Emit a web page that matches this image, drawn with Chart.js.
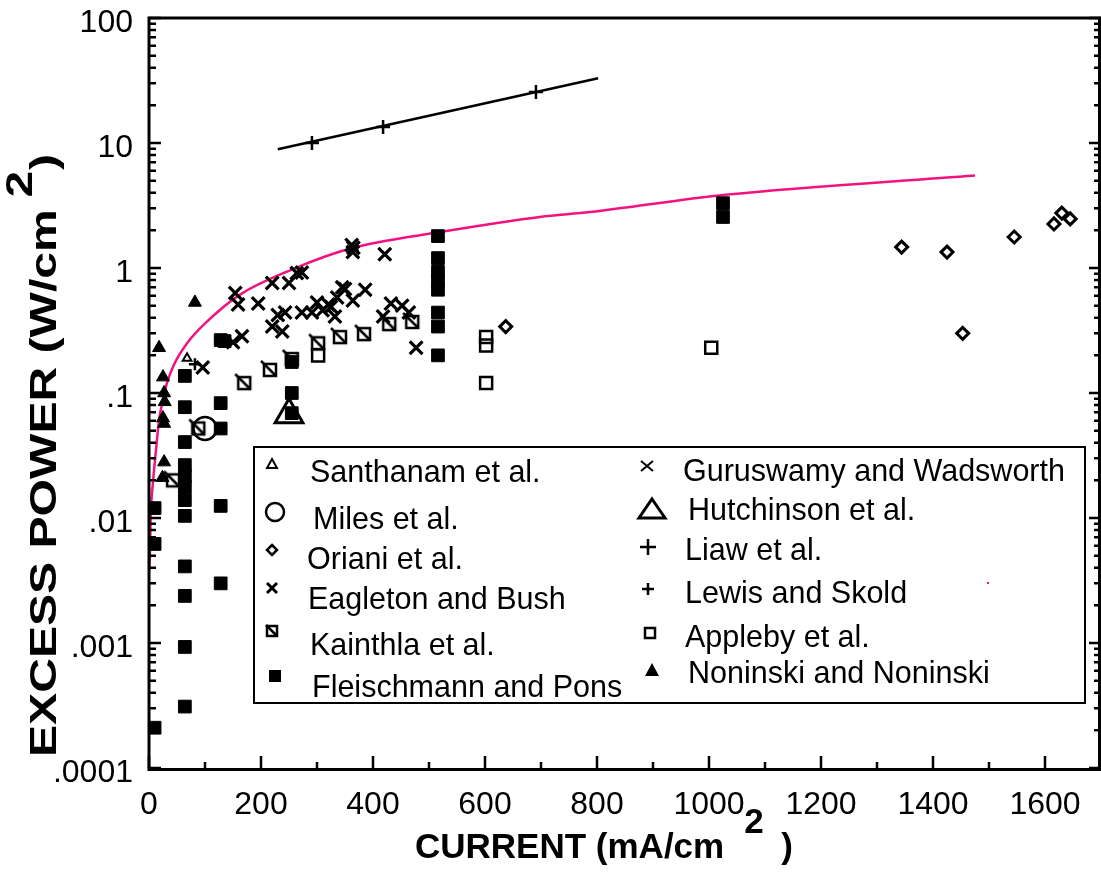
<!DOCTYPE html>
<html>
<head>
<meta charset="utf-8">
<script src="https://cdn.jsdelivr.net/npm/chart.js@4.4.1/dist/chart.umd.min.js"></script>
<style>
html,body{margin:0;padding:0;background:#fff;}
#wrap{width:1101px;height:874px;}
</style>
</head>
<body>
<div id="wrap"><canvas id="grafica" width="1101" height="874"></canvas></div>
<script>
// etiquetas de los ejes
const xTickValues = [0, 200, 400, 600, 800, 1000, 1200, 1400, 1600];
const xTickLabels = ['0', '200', '400', '600', '800', '1000', '1200', '1400', '1600'];
const yTickValues = [0.0001, 0.001, 0.01, 0.1, 1, 10, 100];
const yTickLabels = ['.0001', '.001', '.01', '.1', '1', '10', '100'];

// curva magenta
const curvaX = [0.5, 1.8, 3, 7, 12.5, 18, 25, 32, 45, 68, 100, 162, 250, 364, 520, 698, 787, 1029, 1475];
const curvaY = [0.0038, 0.0055, 0.0102, 0.019, 0.035, 0.061, 0.088, 0.12, 0.17, 0.25, 0.36, 0.61, 0.95, 1.45, 1.94, 2.56, 2.8, 3.85, 5.5];

// series
const santhanamX = [68];
const santhanamY = [0.19];
const milesX = [100];
const milesY = [0.052];
const orianiX = [637, 1344, 1425, 1453, 1545, 1616, 1630, 1645];
const orianiY = [0.34, 1.47, 1.34, 0.30, 1.77, 2.25, 2.75, 2.47];
const eagletonX = [154, 159, 195, 220, 250, 264, 273, 362, 365, 364, 421, 220, 238, 230, 243, 273, 291, 300, 320, 332, 336, 345, 350, 364, 386, 325, 310];
const eagletonY = [0.63, 0.51, 0.52, 0.76, 0.76, 0.91, 0.92, 1.53, 1.45, 1.34, 1.29, 0.34, 0.31, 0.42, 0.44, 0.44, 0.44, 0.53, 0.51, 0.41, 0.58, 0.70, 0.68, 0.55, 0.67, 0.49, 0.46];
const kainthlaX = [43, 88, 170, 216, 255, 302, 341, 384, 429, 470];
const kainthlaY = [0.02, 0.052, 0.12, 0.153, 0.187, 0.25, 0.28, 0.296, 0.356, 0.37];
const fleischmannX = [10, 10, 10, 64, 64, 64, 64, 64, 64, 64, 64, 64, 64, 64, 64, 128, 135, 128, 128, 128, 128, 255, 255, 255, 516, 516, 516, 516, 516, 516, 516, 516, 1025, 1025];
const fleischmannY = [0.012, 0.0062, 0.00021, 0.137, 0.077, 0.0405, 0.0265, 0.0216, 0.0177, 0.0139, 0.0104, 0.0041, 0.00238, 0.00093, 0.00031, 0.265, 0.26, 0.083, 0.052, 0.0125, 0.003, 0.177, 0.1, 0.069, 1.8, 1.2, 0.93, 0.79, 0.67, 0.44, 0.34, 0.2, 3.3, 2.56];
const guruswamyX = [96, 150, 166, 418, 432, 452, 464, 477];
const guruswamyY = [0.16, 0.255, 0.285, 0.41, 0.52, 0.5, 0.44, 0.23];
const hutchinsonX = [250];
const hutchinsonY = [0.067];
const liawX = [291, 418, 691];
const liawY = [10, 13.4, 25.6];
const liawAjusteX = [230, 802];
const liawAjusteY = [8.9, 33];
const lewisX = [82];
const lewisY = [0.17];
const applebyX = [302, 602, 602, 602, 1004];
const applebyY = [0.2, 0.28, 0.24, 0.12, 0.23];
const noninskiX = [82, 18, 25, 27, 28, 25, 27, 27, 24];
const noninskiY = [0.53, 0.23, 0.134, 0.1, 0.085, 0.063, 0.057, 0.028, 0.021];

const fuente = '"Liberation Sans", Arial, Helvetica, sans-serif';
const rosa = '#f2137f';

function pares(xs, ys) {
    return xs.map((v, i) => ({x: v, y: ys[i]}));
}

function hacerMarcaKainthla(lado, grosor) {
    const c = document.createElement('canvas');
    const s = lado + 10;
    c.width = s; c.height = s;
    const g = c.getContext('2d');
    g.strokeStyle = '#000';
    g.lineWidth = grosor;
    const o = 5;
    g.strokeRect(o, o, lado, lado);
    g.beginPath();
    g.moveTo(o - 3, o - 3);
    g.lineTo(o + lado, o + lado);
    g.stroke();
    return c;
}

function puntos(label, xs, ys, estilo) {
    return Object.assign({
        label: label,
        data: pares(xs, ys),
        showLine: false,
        pointBackgroundColor: 'rgba(0,0,0,0)',
        pointBorderColor: '#000',
        pointBorderWidth: 2.5
    }, estilo);
}

// leyenda dibujada a mano
function marcaLeyenda(ctx, tipo, x, y) {
    ctx.save();
    ctx.strokeStyle = '#000';
    ctx.fillStyle = '#000';
    ctx.beginPath();
    if (tipo === 'triPeq') {
        ctx.lineWidth = 2;
        ctx.moveTo(x, y - 5); ctx.lineTo(x + 5, y + 4); ctx.lineTo(x - 5, y + 4); ctx.closePath(); ctx.stroke();
    } else if (tipo === 'circulo') {
        ctx.lineWidth = 2.5;
        ctx.arc(x, y, 9, 0, Math.PI * 2); ctx.stroke();
    } else if (tipo === 'rombo') {
        ctx.lineWidth = 2.5;
        ctx.moveTo(x, y - 5); ctx.lineTo(x + 5, y); ctx.lineTo(x, y + 5); ctx.lineTo(x - 5, y); ctx.closePath(); ctx.stroke();
    } else if (tipo === 'xGruesa') {
        ctx.lineWidth = 3;
        ctx.moveTo(x - 5, y - 5); ctx.lineTo(x + 5, y + 5); ctx.moveTo(x + 5, y - 5); ctx.lineTo(x - 5, y + 5); ctx.stroke();
    } else if (tipo === 'kainthla') {
        ctx.lineWidth = 2.5;
        ctx.strokeRect(x - 5, y - 5, 10, 10);
        ctx.moveTo(x - 6, y - 6); ctx.lineTo(x + 5, y + 5); ctx.stroke();
    } else if (tipo === 'cuadLleno') {
        ctx.fillRect(x - 6, y - 6, 12, 12);
    } else if (tipo === 'xFina') {
        ctx.lineWidth = 2;
        ctx.moveTo(x - 6, y - 5); ctx.lineTo(x + 6, y + 5); ctx.moveTo(x + 6, y - 5); ctx.lineTo(x - 6, y + 5); ctx.stroke();
    } else if (tipo === 'triGrande') {
        ctx.lineWidth = 3;
        ctx.moveTo(x, y - 10); ctx.lineTo(x + 13, y + 9); ctx.lineTo(x - 13, y + 9); ctx.closePath(); ctx.stroke();
    } else if (tipo === 'mas') {
        ctx.lineWidth = 2.5;
        ctx.moveTo(x - 8, y); ctx.lineTo(x + 8, y); ctx.moveTo(x, y - 8); ctx.lineTo(x, y + 8); ctx.stroke();
    } else if (tipo === 'masPeq') {
        ctx.lineWidth = 2.5;
        ctx.moveTo(x - 6, y); ctx.lineTo(x + 6, y); ctx.moveTo(x, y - 6); ctx.lineTo(x, y + 6); ctx.stroke();
    } else if (tipo === 'cuadVacio') {
        ctx.lineWidth = 2.5;
        ctx.strokeRect(x - 5, y - 5, 10, 10);
    } else if (tipo === 'triLleno') {
        ctx.moveTo(x, y - 7); ctx.lineTo(x + 7, y + 6); ctx.lineTo(x - 7, y + 6); ctx.closePath(); ctx.fill();
    }
    ctx.restore();
}

const entradasLeyenda = [
    {texto: 'Santhanam et al.', tipo: 'triPeq', mx: 272, my: 464, tx: 310, ty: 482},
    {texto: 'Miles et al.', tipo: 'circulo', mx: 275, my: 512, tx: 313, ty: 529},
    {texto: 'Oriani et al.', tipo: 'rombo', mx: 272, my: 550, tx: 307, ty: 569},
    {texto: 'Eagleton and Bush', tipo: 'xGruesa', mx: 272, my: 588, tx: 308, ty: 609},
    {texto: 'Kainthla et al.', tipo: 'kainthla', mx: 272, my: 631, tx: 310, ty: 655},
    {texto: 'Fleischmann and Pons', tipo: 'cuadLleno', mx: 275, my: 676, tx: 312, ty: 697},
    {texto: 'Guruswamy and Wadsworth', tipo: 'xFina', mx: 647, my: 466, tx: 683, ty: 481},
    {texto: 'Hutchinson et al.', tipo: 'triGrande', mx: 652, my: 509, tx: 688, ty: 520},
    {texto: 'Liaw et al.', tipo: 'mas', mx: 648, my: 547, tx: 685, ty: 560},
    {texto: 'Lewis and Skold', tipo: 'masPeq', mx: 648, my: 589, tx: 685, ty: 603},
    {texto: 'Appleby et al.', tipo: 'cuadVacio', mx: 650, my: 633, tx: 685, ty: 647},
    {texto: 'Noninski and Noninski', tipo: 'triLleno', mx: 652, my: 670, tx: 688, ty: 683}
];

const leyendaPlugin = {
    id: 'leyendaPropia',
    afterDraw(chart) {
        const ctx = chart.ctx;
        ctx.save();
        ctx.strokeStyle = '#000';
        ctx.lineWidth = 2;
        ctx.strokeRect(254, 447, 831, 256);
        ctx.font = '30.5px ' + fuente;
        ctx.textBaseline = 'alphabetic';
        entradasLeyenda.forEach(e => {
            marcaLeyenda(ctx, e.tipo, e.mx, e.my);
            ctx.fillStyle = '#000';
            ctx.fillText(e.texto, e.tx, e.ty);
        });
        // punto rosa suelto
        ctx.fillStyle = rosa;
        ctx.fillRect(987, 582, 2, 2);
        ctx.restore();
    }
};

const marcoPlugin = {
    id: 'marco',
    afterDraw(chart) {
        const {ctx, chartArea: a, scales: {x, y}} = chart;
        ctx.save();
        ctx.strokeStyle = '#000';
        ctx.lineWidth = 3;
        ctx.beginPath();
        ctx.moveTo(a.left, a.top - 1.5); ctx.lineTo(a.left, a.bottom + 1.5);
        ctx.lineTo(a.right, a.bottom + 1.5);
        ctx.moveTo(a.left, a.top); ctx.lineTo(a.right, a.top);
        ctx.moveTo(a.right - 1.5, a.top); ctx.lineTo(a.right - 1.5, a.bottom);
        ctx.stroke();
        ctx.lineWidth = 2.5;
        ctx.beginPath();
        for (let v = 0; v <= 1700; v += 100) {
            const px = x.getPixelForValue(v);
            const largo = v % 200 === 0 ? 12 : 6;
            ctx.moveTo(px, a.bottom); ctx.lineTo(px, a.bottom - largo);
        }
        for (let d = -4; d <= 2; d++) {
            for (let k = 1; k <= 9; k++) {
                const v = k * Math.pow(10, d);
                if (v > 100.001) break;
                const py = y.getPixelForValue(v);
                const largo = k === 1 ? 12 : 7;
                ctx.moveTo(a.left, py); ctx.lineTo(a.left + largo, py);
                ctx.moveTo(a.right, py); ctx.lineTo(a.right - largo, py);
            }
        }
        ctx.stroke();

        // titulos de ejes con superindice
        ctx.fillStyle = '#000';
        ctx.font = 'bold 35px ' + fuente;
        ctx.textBaseline = 'alphabetic';
        const tx = 'CURRENT (mA/cm';
        const wx = ctx.measureText(tx).width;
        ctx.fillText(tx, 415, 858);
        ctx.fillText('2', 415 + wx + 20, 833);
        ctx.fillText(')', 415 + wx + 57, 858);

        ctx.font = 'bold 37px ' + fuente;
        ctx.translate(56, 757);
        ctx.rotate(-Math.PI / 2);
        ctx.scale(1.3, 1);
        const ty = 'EXCESS POWER (W/cm';
        const wy = ctx.measureText(ty).width;
        ctx.fillText(ty, 0, 0);
        ctx.fillText('2', wy + 9, -24);
        ctx.fillText(')', wy + 30, 0);
        ctx.restore();
    }
};

const ctx = document.getElementById('grafica');
const myChart = new Chart(ctx, {
    type: 'scatter',
    data: {
        datasets: [
            puntos('Santhanam et al.', santhanamX, santhanamY, {pointStyle: 'triangle', pointRadius: 5, pointBorderWidth: 2}),
            puntos('Miles et al.', milesX, milesY, {pointStyle: 'circle', pointRadius: 11.5, pointBorderWidth: 2.5}),
            puntos('Oriani et al.', orianiX, orianiY, {pointStyle: 'rectRot', pointRadius: 6, pointBorderWidth: 3}),
            puntos('Eagleton and Bush', eagletonX, eagletonY, {pointStyle: 'crossRot', pointRadius: 9, pointBorderWidth: 3.2}),
            puntos('Kainthla et al.', kainthlaX, kainthlaY, {pointStyle: hacerMarcaKainthla(12, 2.5), pointRadius: 8}),
            puntos('Fleischmann and Pons', fleischmannX, fleischmannY, {pointStyle: 'rect', pointRadius: 9, pointBackgroundColor: '#000', pointBorderWidth: 1}),
            puntos('Guruswamy and Wadsworth', guruswamyX, guruswamyY, {pointStyle: 'crossRot', pointRadius: 9, pointBorderWidth: 3.2}),
            puntos('Hutchinson et al.', hutchinsonX, hutchinsonY, {pointStyle: 'triangle', pointRadius: 16, pointBorderWidth: 3}),
            puntos('Liaw et al.', liawX, liawY, {pointStyle: 'cross', pointRadius: 7, pointBorderWidth: 2.5}),
            {
                label: 'Liaw ajuste',
                data: pares(liawAjusteX, liawAjusteY),
                showLine: true,
                borderColor: '#000',
                borderWidth: 2.5,
                pointRadius: 0
            },
            puntos('Lewis and Skold', lewisX, lewisY, {pointStyle: 'cross', pointRadius: 6, pointBorderWidth: 2.5}),
            puntos('Appleby et al.', applebyX, applebyY, {pointStyle: 'rect', pointRadius: 8.5, pointBorderWidth: 2.5}),
            puntos('Noninski and Noninski', noninskiX, noninskiY, {pointStyle: 'triangle', pointRadius: 7.5, pointBackgroundColor: '#000', pointBorderWidth: 1}),
            {
                label: 'curva',
                data: pares(curvaX, curvaY),
                showLine: true,
                borderColor: rosa,
                borderWidth: 2.5,
                pointRadius: 0,
                cubicInterpolationMode: 'monotone'
            }
        ]
    },
    options: {
        responsive: false,
        animation: false,
        layout: {autoPadding: false, padding: {top: 18, right: 0, left: 0, bottom: 0}},
        plugins: {
            legend: {display: false},
            tooltip: {enabled: false}
        },
        scales: {
            x: {
                type: 'linear',
                min: 0,
                max: 1700,
                grid: {display: false, drawTicks: false},
                border: {display: false},
                ticks: {
                    stepSize: 100,
                    autoSkip: false,
                    maxRotation: 0,
                    padding: 18,
                    color: '#000',
                    font: {family: fuente, size: 32},
                    callback: function (v) {
                        const i = xTickValues.indexOf(v);
                        return i >= 0 ? xTickLabels[i] : '';
                    }
                },
                afterFit: function (scale) {
                    scale.height = 106;
                    scale.paddingLeft = 0;
                    scale.paddingRight = 0;
                }
            },
            y: {
                type: 'logarithmic',
                min: 0.0001,
                max: 100,
                grid: {display: false, drawTicks: false},
                border: {display: false},
                ticks: {
                    autoSkip: false,
                    padding: 16,
                    labelOffset: 5,
                    color: '#000',
                    font: {family: fuente, size: 32},
                    callback: function (v) {
                        const i = yTickValues.findIndex(t => Math.abs(Math.log10(t) - Math.log10(v)) < 1e-6);
                        return i >= 0 ? yTickLabels[i] : '';
                    }
                },
                afterFit: function (scale) {
                    scale.width = 149;
                    scale.paddingTop = 0;
                    scale.paddingBottom = 0;
                }
            }
        }
    },
    plugins: [marcoPlugin, leyendaPlugin]
});
</script>
</body>
</html>
